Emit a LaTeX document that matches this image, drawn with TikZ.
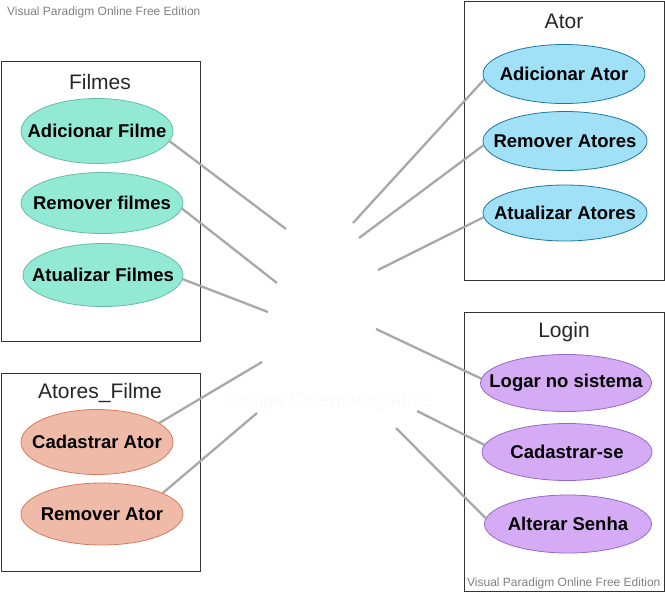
\documentclass[tikz,border=0pt]{standalone}
\usepackage{fontspec}
\setmainfont{Liberation Sans}
\usepackage{tikz}
\usetikzlibrary{positioning}
\usetikzlibrary{shapes.geometric}

\definecolor{filmefill}{RGB}{146,233,212}
\definecolor{filmedraw}{RGB}{104,188,163}
\definecolor{atorfill}{RGB}{160,225,248}
\definecolor{atordraw}{RGB}{30,120,160}
\definecolor{elencofill}{RGB}{240,186,168}
\definecolor{elencodraw}{RGB}{214,122,94}
\definecolor{loginfill}{RGB}{213,171,245}
\definecolor{logindraw}{RGB}{150,106,196}
\definecolor{linkgray}{RGB}{168,168,168}

\begin{document}
\begin{tikzpicture}[x=1pt,y=-1pt]
        \tikzstyle{pack}=[rectangle,draw=black!80,line width=1pt,inner sep=0pt]
        \tikzstyle{title}=[inner sep=0pt,text=black!85,font=\fontsize{21}{25}\selectfont]
        \tikzstyle{usecase}=[ellipse,line width=0.8pt,inner sep=0pt,
            font=\fontsize{18.5}{22}\selectfont\bfseries]
        \tikzstyle{link}=[draw=linkgray,line width=2.3pt]
        \tikzstyle{watermark}=[inner sep=0pt,text=black!50,font=\fontsize{12}{14}\selectfont]
            \useasboundingbox (0,0) rectangle (665,592);

            % packages
            \node[pack, minimum width=199pt, minimum height=280pt] (filmes) at (100.5,201.5) {};
            \node[pack, minimum width=199pt, minimum height=198pt] (elenco) at (100.5,472) {};
            \node[pack, minimum width=200pt, minimum height=279pt] (ator) at (564,140.5) {};
            \node[pack, minimum width=200pt, minimum height=279pt] (login) at (564,451.5) {};

            \node[title] (tfilmes) at (100,82) {Filmes};
            \node[title] (telenco) at (100,393) {Atores\_Filme};
            \node[title] (tator) at (564,21) {Ator};
            \node[title] (tlogin) at (564,332) {Login};

            % use cases
            \node[usecase, fill=filmefill, draw=filmedraw, minimum width=152pt, minimum height=65pt]
                (afilme) at (97,131) {\makebox[0pt]{\raisebox{-1.5pt}{Adicionar Filme}}};
            \node[usecase, fill=filmefill, draw=filmedraw, minimum width=162pt, minimum height=61pt]
                (rfilmes) at (102,203) {\makebox[0pt]{\raisebox{-1.5pt}{Remover filmes}}};
            \node[usecase, fill=filmefill, draw=filmedraw, minimum width=160pt, minimum height=63pt]
                (ufilmes) at (103,275) {\makebox[0pt]{\raisebox{-1.5pt}{Atualizar Filmes}}};

            \node[usecase, fill=elencofill, draw=elencodraw, minimum width=152pt, minimum height=65pt]
                (cator) at (97,442) {\makebox[0pt]{\raisebox{-1.5pt}{Cadastrar Ator}}};
            \node[usecase, fill=elencofill, draw=elencodraw, minimum width=162pt, minimum height=62pt]
                (rator) at (102,514) {\makebox[0pt]{\raisebox{-1.5pt}{Remover Ator}}};

            \node[usecase, fill=atorfill, draw=atordraw, minimum width=162pt, minimum height=59pt]
                (aator) at (564,74) {\makebox[0pt]{\raisebox{-1.5pt}{Adicionar Ator}}};
            \node[usecase, fill=atorfill, draw=atordraw, minimum width=164pt, minimum height=59pt]
                (ratores) at (565,141) {\makebox[0pt]{\raisebox{-1.5pt}{Remover Atores}}};
            \node[usecase, fill=atorfill, draw=atordraw, minimum width=164pt, minimum height=56pt]
                (uatores) at (565,213) {\makebox[0pt]{\raisebox{-1.5pt}{Atualizar Atores}}};

            \node[usecase, fill=loginfill, draw=logindraw, minimum width=171pt, minimum height=57pt]
                (logar) at (566,383) {\makebox[0pt]{\raisebox{-1.5pt}{Logar no sistema}}};
            \node[usecase, fill=loginfill, draw=logindraw, minimum width=170pt, minimum height=57pt]
                (cadastrar) at (567,452) {\makebox[0pt]{\raisebox{-1.5pt}{Cadastrar-se}}};
            \node[usecase, fill=loginfill, draw=logindraw, minimum width=167pt, minimum height=58pt]
                (senha) at (568,524) {\makebox[0pt]{\raisebox{-1.5pt}{Alterar Senha}}};

            % actor (drawn in white)
            \node[inner sep=0pt, text=black!2, font=\fontsize{19.5}{23}\selectfont]
                (equipe) at (328,401) {Equipe Cinematográfica};

            \coordinate (e1) at (286,229);
            \coordinate (e2) at (277,283);
            \coordinate (e3) at (268,312);
            \coordinate (e4) at (262,362);
            \coordinate (e5) at (257,413);
            \coordinate (e6) at (353,223);
            \coordinate (e7) at (359,238);
            \coordinate (e8) at (378,270);
            \coordinate (e9) at (376,329);
            \coordinate (e10) at (417,411);
            \coordinate (e11) at (396,428);

            \draw[link] (afilme.-8) -- (e1);
            \draw[link] (rfilmes.-4) -- (e2);
            \draw[link] (ufilmes.-3) -- (e3);
            \draw[link] (cator.17) -- (e4);
            \draw[link] (rator.19) -- (e5);
            \draw[link] (aator.184) -- (e6);
            \draw[link] (ratores.183) -- (e7);
            \draw[link] (uatores.183) -- (e8);
            \draw[link] (logar.177) -- (e9);
            \draw[link] (cadastrar.175) -- (e10);
            \draw[link] (senha.176) -- (e11);

            \node[watermark, anchor=west] (wm1) at (7,12) {Visual Paradigm Online Free Edition};
            \node[watermark, anchor=west] (wm2) at (467,583) {Visual Paradigm Online Free Edition};
        \end{tikzpicture}
\end{document}
